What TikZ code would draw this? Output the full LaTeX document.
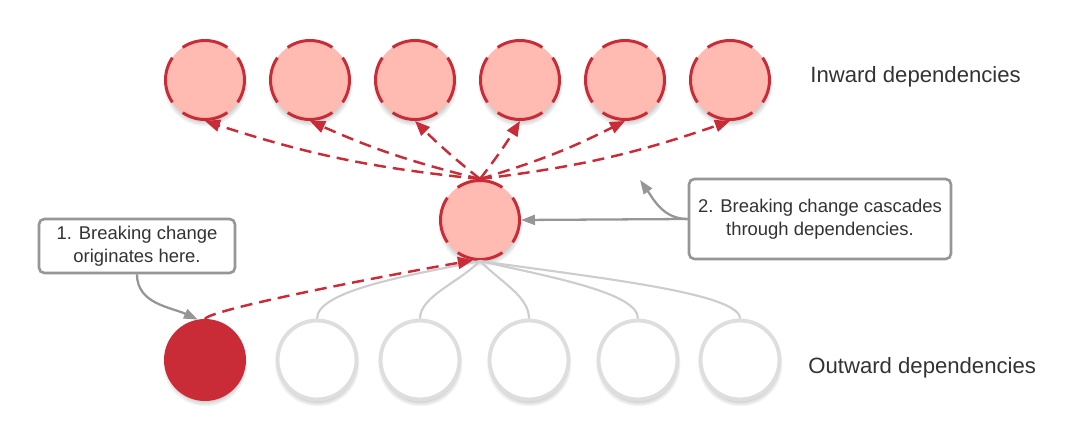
\documentclass[tikz,border=0pt]{standalone}
\usepackage{fontspec}
\setmainfont{Liberation Sans}
\usetikzlibrary{positioning,arrows.meta,shadows}
\definecolor{brkred}{RGB}{201,43,55}
\definecolor{brkpink}{RGB}{255,186,177}
\definecolor{outgray}{RGB}{222,222,222}
\definecolor{linkgray}{RGB}{205,205,205}
\definecolor{notegray}{RGB}{150,150,150}
\definecolor{textgray}{RGB}{51,51,51}

\begin{document}
\begin{tikzpicture}[
    x=0.02cm, y=0.02cm,
    dep/.style={circle, minimum size=1.58cm, inner sep=0pt, line width=1.7pt,
        circular drop shadow={shadow xshift=0pt, shadow yshift=-2pt, shadow scale=1.08, opacity=0.4}},
    inward/.style={dep, draw=brkred, fill=brkpink, dash pattern=on 0.95cm off 0.291cm, dash phase=0.475cm},
    outward/.style={dep, draw=outgray, fill=white, line width=2.2pt},
    broken/.style={dep, draw=brkred, fill=brkred},
    note/.style={rectangle, draw=notegray, line width=1.5pt, rounded corners=3pt, fill=white,
        align=center, text=textgray, font=\fontsize{10.5}{13}\selectfont},
    tag/.style={anchor=west, inner sep=0pt, text=textgray, font=\fontsize{12.6}{15}\selectfont},
    cascade/.style={draw=brkred, line width=1.4pt, dash pattern=on 0.24cm off 0.14cm,
        -{Triangle[length=0.3cm, width=0.24cm]}},
    pointer/.style={draw=notegray, line width=1.3pt, -{Triangle[length=0.28cm, width=0.2cm]}},
    link/.style={draw=linkgray, line width=1.2pt}
]
\useasboundingbox (0,0) rectangle (1083,440);

% inward row
\foreach \i/\x in {1/205,2/310,3/415,4/520,5/625,6/730}
    \node[inward] (in\i) at (\x,360) {};
\node[inward] (hub) at (480,220) {};

% outward row
\node[broken] (out0) at (205,80) {};
\foreach \i/\x in {1/317,2/420,3/529,4/638,5/740}
    \node[outward] (out\i) at (\x,80) {};

\node[tag] (intag) at (810,363) {Inward dependencies};
\node[tag] (outtag) at (808,72) {Outward dependencies};

\node[note, minimum width=3.92cm, minimum height=1.08cm] (note1) at (137,194) {1. Breaking change\\originates here.};
\node[note, minimum width=5.24cm, minimum height=1.6cm] (note2) at (820,221) {2. Breaking change cascades\\through dependencies.};
\coordinate (spot) at (640,260);

% hub to outward
\draw[link] (hub.south) .. controls +(-70,-14) and +(0,28) .. (out1.north);
\draw[link] (hub.south) .. controls +(-22,-22) and +(0,22) .. (out2.north);
\draw[link] (hub.south) .. controls +(22,-22) and +(0,22) .. (out3.north);
\draw[link] (hub.south) .. controls +(70,-16) and +(0,26) .. (out4.north);
\draw[link] (hub.south) .. controls +(110,-16) and +(0,26) .. (out5.north);

% cascade
\draw[cascade] (out0.north) .. controls +(4,10) and +(-70,-12) .. (hub.-100);
\foreach \i/\b in {1/6,2/5,3/3}
    \draw[cascade] (hub.north) to[bend left=\b] (in\i.south);
\foreach \i/\b in {4/3,5/5,6/6}
    \draw[cascade] (hub.north) to[bend right=\b] (in\i.south);

% notes
\draw[pointer] (note1.south) to[out=-90, in=155] (out0.100);
\draw[pointer] (note2.west) -- (hub.east);
\draw[pointer] (note2.west) to[out=180, in=-55] (spot);
\end{tikzpicture}
\end{document}
